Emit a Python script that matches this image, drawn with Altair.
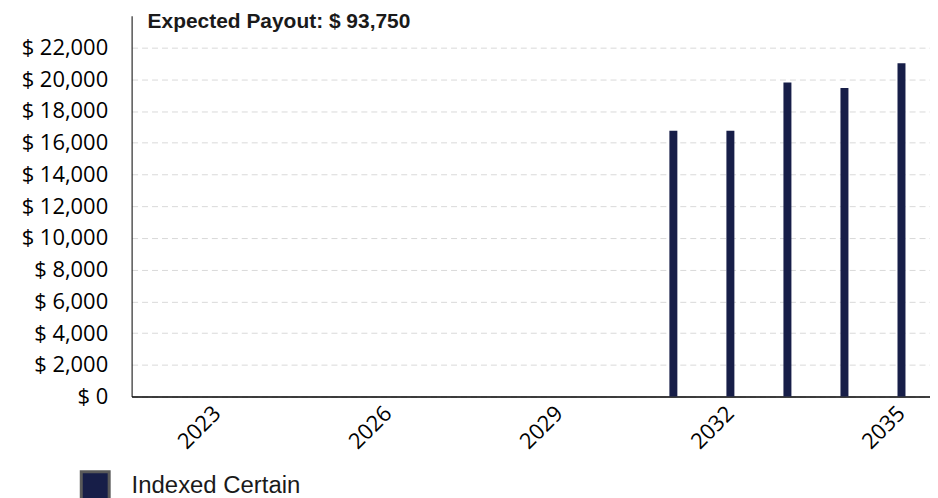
import altair as alt
import pandas as pd

# ---- data ----
years = [2022, 2023, 2024, 2025, 2026, 2027, 2028, 2029, 2030, 2031, 2032, 2033, 2034, 2035]
payouts = [0, 0, 0, 0, 0, 0, 0, 0, 0, 16750, 16750, 19800, 19450, 21000]
series_name = "Indexed Certain"
x_label_years = [2023, 2026, 2029, 2032, 2035]
y_tick_values = [0, 2000, 4000, 6000, 8000, 10000, 12000, 14000, 16000, 18000, 20000, 22000]
title_text = ["Expected Payout: $ 93,750"]

df = pd.DataFrame({"year": years, "payout": payouts, "series": [series_name] * len(years)})
title_df = pd.DataFrame({"t": title_text})

NAVY = "#171e48"
LABEL_FONT = "Open Sans"

bars = alt.Chart(df).mark_bar(size=8).encode(
    x=alt.X(
        "year:O",
        scale=alt.Scale(paddingInner=0, paddingOuter=0),
        axis=alt.Axis(
            title=None,
            values=x_label_years,
            labelAngle=-45,
            labelAlign="right",
            labelBaseline="middle",
            labelPadding=13,
            labelFont=LABEL_FONT,
            labelFontSize=22,
            labelColor="#000000",
            ticks=False,
            tickSize=0,
            domain=True,
            domainColor="#000000",
            domainWidth=1.5,
            grid=False,
        ),
    ),
    y=alt.Y(
        "payout:Q",
        scale=alt.Scale(domain=[0, 24000], nice=False, zero=True),
        axis=alt.Axis(
            title=None,
            values=y_tick_values,
            labelExpr="'$ ' + format(datum.value, ',')",
            labelFont=LABEL_FONT,
            labelFontSize=22,
            labelColor="#000000",
            labelPadding=24,
            ticks=False,
            tickSize=0,
            domain=True,
            domainColor="#000000",
            domainWidth=1,
            grid=True,
            gridColor="#d9d9d9",
            gridDash=[6, 4],
            gridWidth=1,
        ),
    ),
    color=alt.Color(
        "series:N",
        scale=alt.Scale(domain=[series_name], range=[NAVY]),
        legend=alt.Legend(
            title=None,
            orient="none",
            legendX=-52,
            legendY=456,
            symbolType="square",
            symbolSize=784,
            symbolStrokeColor="#595959",
            symbolStrokeWidth=3,
            symbolOpacity=1,
            labelFont="Liberation Sans",
            labelFontSize=24,
            labelColor="#1a1a1a",
            labelOffset=21,
            labelLimit=400,
            padding=0,
        ),
    ),
)

title_mark = alt.Chart(title_df).mark_text(
    align="left",
    baseline="alphabetic",
    font="Liberation Sans",
    fontSize=21,
    fontWeight="bold",
    color="#1a1a1a",
).encode(
    x=alt.value(16),
    y=alt.value(12),
    text="t:N",
)

chart = alt.layer(bars, title_mark).properties(
    width=801,
    height=382,
    autosize=alt.AutoSizeParams(type="none"),
    padding={"left": 124, "top": 7, "right": 0, "bottom": 101},
).configure_view(stroke=None)

chart.save("out.html", embed_options={"renderer": "svg", "actions": False})
